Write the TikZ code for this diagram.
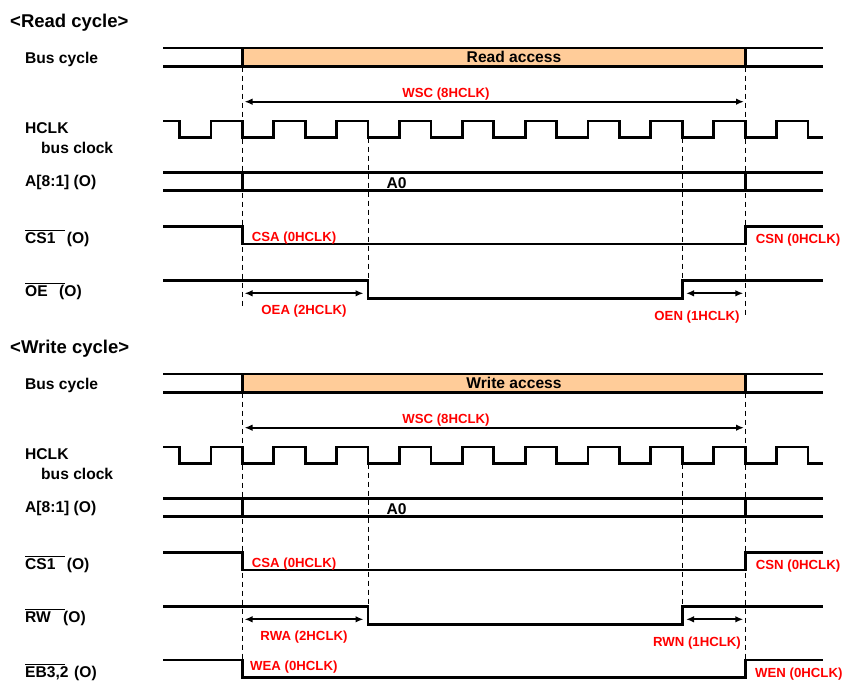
\documentclass[tikz,border=0pt]{standalone}
\usepackage{fontspec}
\setmainfont{Liberation Sans}
\usetikzlibrary{arrows.meta}
\definecolor{accfill}{RGB}{255,204,153}
\definecolor{lblred}{RGB}{255,0,0}
\tikzset{
  sig/.style={line width=2.8pt, line join=miter},
  guide/.style={line width=1pt, dash pattern=on 5.5pt off 3.5pt},
  dimarrow/.style={line width=2pt, {Latex[length=8pt,width=6.5pt]}-{Latex[length=8pt,width=6.5pt]}},
  lbl/.style={font=\fontsize{15.6}{18}\selectfont\bfseries, inner sep=0pt, anchor=base west},
  ttl/.style={font=\fontsize{18.5}{22}\selectfont\bfseries, inner sep=0pt, anchor=base west},
  rlbl/.style={font=\fontsize{13.2}{16}\selectfont\bfseries, text=lblred, inner sep=0pt, anchor=base west},
}
\newcommand\ovlbl[2]{\rlap{\rule[12.4pt]{40pt}{1.3pt}}\makebox[#1][l]{#2}(O)}
\newcommand\tmcycle[6]{%
  \node[ttl] (#1-title) at (10,27.5) {#2};
  \node[lbl] (#1-bus) at (25,63.3) {Bus cycle};
  \node[lbl] (#1-hclk) at (25,133.3) {HCLK};
  \node[lbl] (#1-bclk) at (41,153.3) {bus clock};
  \node[lbl] (#1-addr) at (25,186.5) {A[8:1] (O)};
  \node[lbl] (#1-cs) at (25,243.3) {\ovlbl{41.7pt}{CS1}};
  \node[lbl] (#1-sig) at (25,296.7) {#4};
  % bus cycle
  \fill[accfill] (242.35,48) rectangle (745.15,66.5);
  \draw[sig] (163,48) -- (823,48) (163,66.5) -- (823,66.5)
             (242.35,48) -- (242.35,66.5) (745.15,48) -- (745.15,66.5);
  \node[lbl,anchor=base] (#1-acc) at (514,62.7) {#3};
  % clock
  \draw[sig] (163,121) foreach \k in {0,...,9} {
      -- ({179.5+62.85*\k},121) -- ({179.5+62.85*\k},137.5)
      -- ({210.9+62.85*\k},137.5) -- ({210.9+62.85*\k},121) }
      -- (808,121) -- (808,137.5) -- (823,137.5);
  % address
  \draw[sig] (163,172.7) -- (823,172.7) (163,190.7) -- (823,190.7)
             (242.35,172.7) -- (242.35,190.7) (745.15,172.7) -- (745.15,190.7);
  \node[lbl,anchor=base] (#1-a0) at (396.7,188.3) {A0};
  % chip select
  \draw[sig] (163,226.5) -- (242.35,226.5) -- (242.35,244) -- (745.15,244)
             -- (745.15,226.5) -- (823,226.5);
  % OE / RW
  \draw[sig] (163,280.7) -- (368.05,280.7) -- (368.05,298.3) -- (682.3,298.3)
             -- (682.3,280.7) -- (823,280.7);
  % guides
  \draw[guide] (368.05,137.5) -- (368.05,280.7);
  \draw[guide] (682.3,137.5) -- (682.3,298.3);
  % dimension arrows
  \coordinate (#1-wsc-l) at (244.5,101.7);
  \coordinate (#1-wsc-r) at (744,101.7);
  \draw[dimarrow] (#1-wsc-l) -- (#1-wsc-r);
  \coordinate (#1-xa-l) at (244.5,293.3);
  \coordinate (#1-xa-r) at (363.5,293.3);
  \draw[dimarrow] (#1-xa-l) -- (#1-xa-r);
  \coordinate (#1-xn-l) at (686,293.3);
  \coordinate (#1-xn-r) at (743.3,293.3);
  \draw[dimarrow] (#1-xn-l) -- (#1-xn-r);
  % red labels
  \node[rlbl,anchor=base] (#1-wsc) at (446,97.4) {WSC (8HCLK)};
  \node[rlbl] (#1-csa) at (251.7,241.7) {CSA (0HCLK)};
  \node[rlbl] (#1-csn) at (755.7,243.3) {CSN (0HCLK)};
  \node[rlbl,anchor=base] (#1-xa) at (304,314) {#5};
  \node[rlbl,anchor=base] (#1-xn) at (697,320) {#6};
}
\begin{document}
\begin{tikzpicture}[x=1pt,y=-1pt]
\useasboundingbox (0,0) rectangle (842,680);
% read cycle
\tmcycle{r}{<Read cycle>}{Read access}{\ovlbl{34pt}{OE}}{OEA (2HCLK)}{OEN (1HCLK)}
\draw[guide] (242.35,66.5) -- (242.35,308);
\draw[guide] (745.15,66.5) -- (745.15,315);
% write cycle
\begin{scope}[yshift=-326pt]
\tmcycle{w}{<Write cycle>}{Write access}{\ovlbl{38pt}{RW}}{RWA (2HCLK)}{RWN (1HCLK)}
\draw[guide] (242.35,66.5) -- (242.35,334);
\draw[guide] (745.15,66.5) -- (745.15,334);
\node[lbl] (w-eb) at (25,351.5) {\ovlbl{49pt}{EB3,2}};
\draw[sig] (163,334) -- (242.35,334) -- (242.35,351.3) -- (745.15,351.3)
           -- (745.15,334) -- (823,334);
\node[rlbl] (w-wea) at (250,344) {WEA (0HCLK)};
\node[rlbl] (w-wen) at (755,351) {WEN (0HCLK)};
\end{scope}
\end{tikzpicture}
\end{document}
